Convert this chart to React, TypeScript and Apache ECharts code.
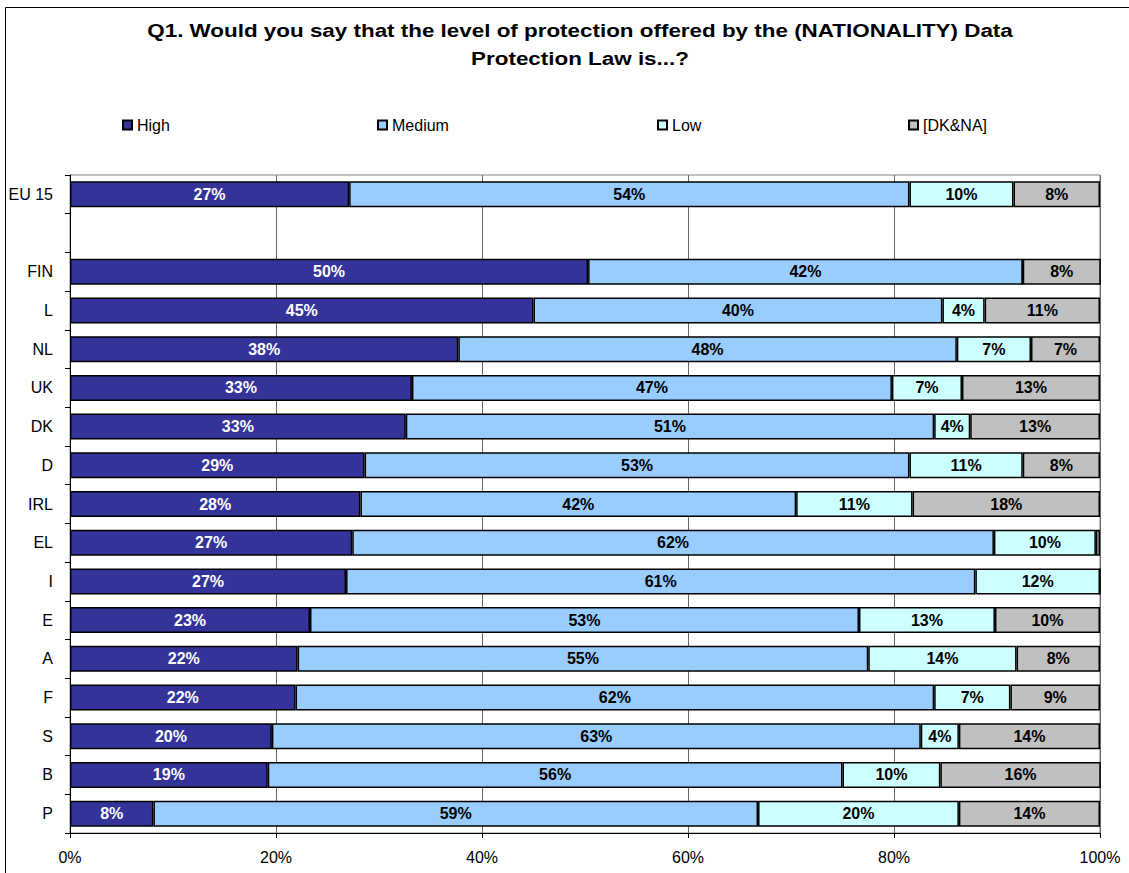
import React, { useEffect, useRef } from "react";
import * as echarts from "echarts";

const categories = ["EU 15", "", "FIN", "L", "NL", "UK", "DK", "D", "IRL", "EL", "I", "E", "A", "F", "S", "B", "P"];
const seriesNames = ["High", "Medium", "Low", "[DK&NA]"];
const highValues = [27.1, null, 50.3, 45.0, 37.7, 33.2, 32.6, 28.6, 28.2, 27.4, 26.8, 23.3, 22.1, 21.9, 19.6, 19.2, 8.1];
const mediumValues = [54.4, null, 42.2, 39.7, 48.4, 46.6, 51.3, 52.9, 42.3, 62.3, 61.1, 53.3, 55.4, 62.0, 63.0, 55.8, 58.7];
const lowValues = [10.1, null, 0, 4.1, 7.2, 6.8, 3.5, 11.0, 11.3, 9.9, 12.1, 13.2, 14.4, 7.4, 3.7, 9.5, 19.5];
const dkValues = [8.4, null, 7.6, 11.2, 6.7, 13.4, 12.6, 7.5, 18.2, 0.4, 0, 10.2, 8.1, 8.7, 13.7, 15.6, 13.7];
const xTicks = [0, 20, 40, 60, 80, 100];
const titleLines = [
  "Q1. Would you say that the level of protection offered by the (NATIONALITY) Data",
  "Protection Law is...?",
];

const FONT = "Arial, 'Liberation Sans', sans-serif";
const colors = ["#333399", "#99CCFF", "#CCFFFF", "#C0C0C0"];
const labelColors = ["#FFFFFF", "#000000", "#000000", "#000000"];
const legendLeft = [117, 372, 652, 903];

export default function App() {
  const ref = useRef<HTMLDivElement>(null);
  useEffect(() => {
    document.body.style.margin = "0";
    if (!ref.current) return;
    const chart = echarts.init(ref.current, null, { renderer: "svg" });
    const allValues = [highValues, mediumValues, lowValues, dkValues];
    const option: any = {
      animation: false,
      backgroundColor: "#ffffff",
      textStyle: { fontFamily: FONT },
      graphic: [
        {
          type: "rect",
          silent: true,
          shape: { x: 5.5, y: 7.5, width: 1300, height: 1000 },
          style: { fill: "none", stroke: "#000", lineWidth: 1 },
        },
        ...titleLines.map((t, i) => ({
          type: "text",
          silent: true,
          x: 580,
          y: 30 + i * 28,
          scaleX: 1.18,
          style: {
            text: t,
            textAlign: "center",
            textVerticalAlign: "middle",
            fontFamily: FONT,
            fontSize: 19,
            fontWeight: "bold",
            fill: "#000",
          },
        })),
      ],
      legend: seriesNames.map((n, i) => ({
        data: [n],
        left: legendLeft[i],
        top: 112,
        icon: "rect",
        itemWidth: 9,
        itemHeight: 9,
        itemGap: 5,
        textStyle: { fontSize: 16, fontFamily: FONT, color: "#000" },
      })),
      grid: {
        left: 70,
        right: 29,
        top: 175,
        bottom: 40,
        show: true,
        borderColor: "#808080",
        borderWidth: 1,
      },
      xAxis: {
        type: "value",
        min: xTicks[0],
        max: xTicks[xTicks.length - 1],
        interval: xTicks[1] - xTicks[0],
        axisLabel: { formatter: "{value}%", fontSize: 16, color: "#000", fontFamily: FONT, margin: 16 },
        axisLine: { show: true, lineStyle: { color: "#000", width: 1 } },
        axisTick: { show: true, length: 5, lineStyle: { color: "#000" } },
        splitLine: { show: true, lineStyle: { color: "#666", width: 1 } },
      },
      yAxis: {
        type: "category",
        data: categories,
        inverse: true,
        axisLine: { show: true, lineStyle: { color: "#000", width: 1 } },
        axisTick: { show: true, length: 5, lineStyle: { color: "#000" } },
        axisLabel: { fontSize: 16, color: "#000", fontFamily: FONT, margin: 17 },
        splitLine: { show: false },
      },
      series: seriesNames.map((n, i) => ({
        name: n,
        type: "bar",
        stack: "total",
        barWidth: 26,
        data: allValues[i],
        itemStyle: { color: colors[i], borderColor: "#000", borderWidth: 1.5 },
        label: {
          show: true,
          position: "inside",
          color: labelColors[i],
          fontWeight: "bold",
          fontSize: 16,
          fontFamily: FONT,
          formatter: (p: any) => (p.value != null && p.value >= 1 ? Math.round(p.value) + "%" : ""),
        },
      })),
    };
    chart.setOption(option);
    return () => chart.dispose();
  }, []);
  return <div ref={ref} style={{ width: 1129, height: 873 }} />;
}
